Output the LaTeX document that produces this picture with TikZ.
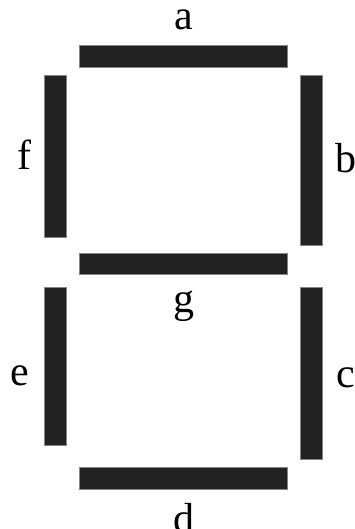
\documentclass[tikz,border=0pt]{standalone}
\usepackage{fontspec}
\setmainfont{Liberation Serif}
\usetikzlibrary{positioning}
\definecolor{segDark}{RGB}{34,34,34}

\begin{document}
\begin{tikzpicture}[x=1pt,y=-1pt,
    seg/.style={draw=segDark!55,fill=segDark,line width=0.5pt,inner sep=0pt,outer sep=0pt},
    lbl/.style={inner sep=0pt,anchor=base,font=\fontsize{42}{46}\selectfont}]

    \useasboundingbox (0,0) rectangle (355,529);

    % Segmentos do display
    \foreach \nm/\x/\y/\w/\h in {
      a/79/45/208/22,
      b/300/75/22/170,
      c/300/287/22/172,
      d/79/467/208/22,
      e/44/287/22/158,
      f/44/75/22/162,
      g/79/253/208/21}{
      \node[seg,minimum width=\w pt,minimum height=\h pt] (seg\nm)
        at (\x+\w/2,\y+\h/2) {};
    }

    % Rotulos
    \foreach \nm/\x/\y in {a/184/30, b/346/173, c/346/387, d/184/532,
                           e/19.5/385, f/24/170, g/184/312}{
      \node[lbl] (lbl\nm) at (\x,\y) {\nm};
    }

  \end{tikzpicture}
\end{document}
